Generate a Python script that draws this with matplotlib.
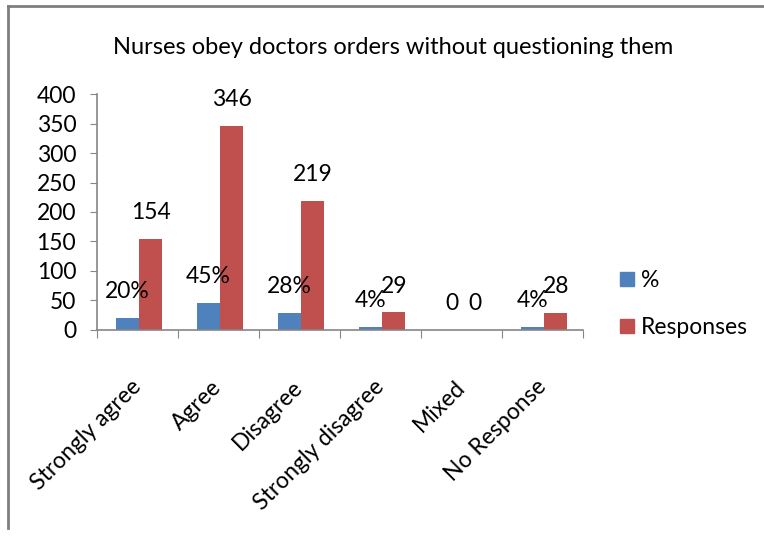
import matplotlib.pyplot as plt
from matplotlib.lines import Line2D
import numpy as np

categories = ["Strongly agree", "Agree", "Disagree", "Strongly disagree", "Mixed", "No Response"]
pct_values = [20, 45, 28, 4, 0, 4]
pct_labels = ["20%", "45%", "28%", "4%", "0", "4%"]
responses = [154, 346, 219, 29, 0, 28]
resp_labels = ["154", "346", "219", "29", "0", "28"]
yticks = [0, 50, 100, 150, 200, 250, 300, 350, 400]

plt.rcParams['font.family'] = ['Lato', 'DejaVu Sans']

W, H = 764, 538
fig = plt.figure(figsize=(W / 100, H / 100), dpi=100)
ax = fig.add_axes([97 / W, 1 - 329.5 / H, (583 - 97) / W, (329.5 - 94.3) / H])

x = np.arange(len(categories))
width = 0.285
blue, red = '#4F81BD', '#C0504D'
b1 = ax.bar(x - width / 2 + 0.02, pct_values, width, color=blue, label='%')
b2 = ax.bar(x + width / 2 + 0.02, responses, width, color=red, label='Responses')

for rect, lab in zip(b1, pct_labels):
    ax.annotate(lab, (rect.get_x() + rect.get_width() / 2, rect.get_height()),
                xytext=(0, 19), textcoords='offset points',
                ha='center', va='center', fontsize=16.5)
for rect, lab in zip(b2, resp_labels):
    ax.annotate(lab, (rect.get_x() + rect.get_width() / 2, rect.get_height()),
                xytext=(0, 19), textcoords='offset points',
                ha='center', va='center', fontsize=16.5)

ax.set_xlim(-0.5, len(categories) - 0.5)
ax.set_ylim(0, 400)
ax.set_yticks(yticks)
ax.tick_params(axis='y', labelsize=16.5, length=5, color='#868686', pad=10)

# category boundaries as ticks, labels at centres
ax.set_xticks(np.arange(len(categories) + 1) - 0.5)
ax.set_xticklabels([])
ax.tick_params(axis='x', which='major', length=6, direction='out', color='#868686')
ax.set_xticks(x, minor=True)
ax.set_xticklabels(categories, minor=True, rotation=45, ha='right',
                   va='center', rotation_mode='anchor', fontsize=16.5)
ax.tick_params(axis='x', which='minor', length=0, pad=39)

for s in ['top', 'right']:
    ax.spines[s].set_visible(False)
for s in ['left', 'bottom']:
    ax.spines[s].set_color('#868686')
    ax.spines[s].set_linewidth(1.2)

fig.text(393 / W, 1 - 48 / H, "Nurses obey doctors orders without questioning them",
         ha='center', va='center', fontsize=17)

handles = [Line2D([], [], marker='s', linestyle='none', markersize=9.5, color=blue),
           Line2D([], [], marker='s', linestyle='none', markersize=9.5, color=red)]
fig.legend(handles, ['%', 'Responses'], loc='center left',
           bbox_to_anchor=(620 / W, 1 - 304 / H), frameon=False, fontsize=16.5,
           handlelength=0.6, handletextpad=0.3, labelspacing=1.15,
           borderpad=0, borderaxespad=0)

# outer chart frame
fig.add_artist(Line2D([8 / W, 8 / W], [1 - 6 / H, 1 - 528 / H], color='#7f7f7f', lw=2))
fig.add_artist(Line2D([8 / W, 1], [1 - 6 / H, 1 - 6 / H], color='#7f7f7f', lw=2))

fig.savefig('out.png', dpi=100)
